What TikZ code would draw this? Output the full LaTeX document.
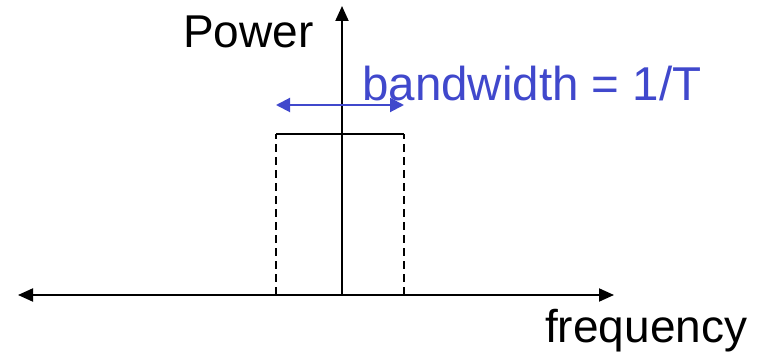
\documentclass[tikz,border=0pt]{standalone}
\usepackage{fontspec}
\setmainfont{Liberation Sans}
\usetikzlibrary{arrows.meta}
\definecolor{bwblue}{RGB}{64,72,204}
\begin{document}
\begin{tikzpicture}[x=1pt,y=-1pt,
  lbl/.style={inner sep=0pt,anchor=base west,font=\fontsize{46}{50}\selectfont},
  axis/.style={line width=2pt,-{Triangle[length=15pt,width=13pt]}},
  edge/.style={line width=1.6pt},
  dashedge/.style={line width=1.6pt,dash pattern=on 8pt off 5pt},
  bwarrow/.style={line width=2pt,bwblue,{Triangle[length=14pt,width=14pt]}-{Triangle[length=14pt,width=14pt]}}]
\useasboundingbox (0,0) rectangle (771,355);
\coordinate (xl) at (18,295);
\coordinate (xr) at (614,295);
\coordinate (o) at (342,295);
\coordinate (yt) at (342,6);
\coordinate (bl) at (276,295);
\coordinate (br) at (404,295);
\coordinate (tl) at (276,134);
\coordinate (tr) at (404,134);
\coordinate (al) at (276,105);
\coordinate (ar) at (404,105);
\draw[dashedge] (bl) -- (tl);
\draw[dashedge] (br) -- (tr);
\draw[edge] (tl) -- (tr);
\draw[axis,{Triangle[length=15pt,width=13pt]}-{Triangle[length=15pt,width=13pt]}] (xl) -- (xr);
\draw[axis] (o) -- (yt);
\draw[bwarrow] (al) -- (ar);
\node[lbl] (power) at (183,48) {Power};
\node[lbl,text=bwblue,font=\fontsize{47.5}{52}\selectfont] (bw) at (362,101) {bandwidth = 1/T};
\node[lbl] (freq) at (545,342) {frequency};
\end{tikzpicture}
\end{document}
